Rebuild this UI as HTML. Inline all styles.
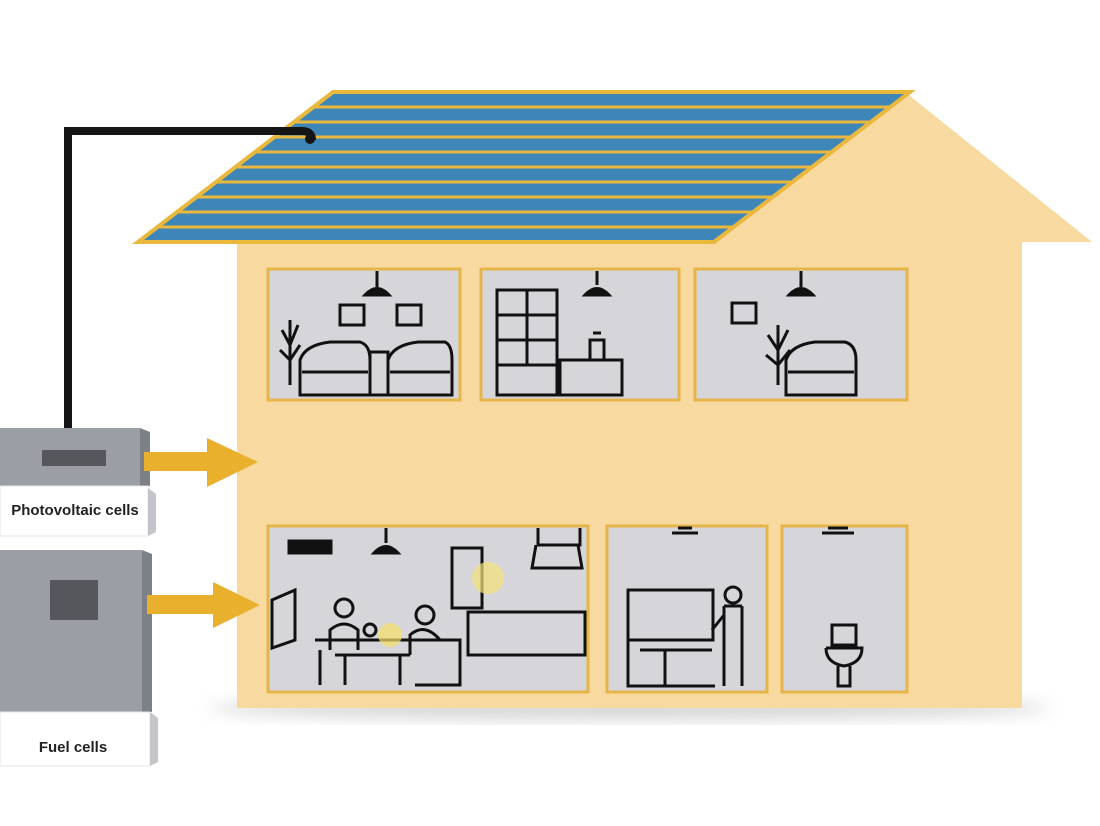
<!DOCTYPE html>
<html><head><meta charset="utf-8"><style>
html,body{margin:0;padding:0;background:#fff;}
body{width:1100px;height:826px;overflow:hidden;position:relative;font-family:"Liberation Sans",sans-serif;}
.lbl{position:absolute;font-weight:bold;font-size:15px;color:#222;text-align:center;}
</style></head><body>
<svg width="1100" height="826" viewBox="0 0 1100 826" style="position:absolute;left:0;top:0">
<defs>
<filter id="sh" x="-20%" y="-20%" width="140%" height="140%"><feGaussianBlur stdDeviation="8"/></filter>
</defs>
<ellipse cx="630" cy="708" rx="420" ry="12" fill="#bbb" filter="url(#sh)" opacity="0.6"/>
<rect x="237" y="238" width="785" height="470" fill="#f8d9a0"/>
<polygon points="905,92 1092,242 237,242" fill="#f8d9a0"/>
<polygon points="333,92 910,92 714,242 138,242" fill="#3f86b8" stroke="#e9b83c" stroke-width="4"/>
<g stroke="#e9b83c" stroke-width="3">
<line x1="313" y1="107" x2="890" y2="107"/>
<line x1="293" y1="122" x2="870" y2="122"/>
<line x1="274" y1="137" x2="851" y2="137"/>
<line x1="254" y1="152" x2="831" y2="152"/>
<line x1="234" y1="167" x2="811" y2="167"/>
<line x1="215" y1="182" x2="792" y2="182"/>
<line x1="195" y1="197" x2="772" y2="197"/>
<line x1="176" y1="212" x2="753" y2="212"/>
<line x1="157" y1="227" x2="733" y2="227"/>
</g>
<path d="M68 430 V131 H302 Q312 131 312 140" fill="none" stroke="#151515" stroke-width="8"/>
<circle cx="310" cy="139" r="5" fill="#151515"/>
<g fill="#d6d6da" stroke="#e6b448" stroke-width="3">
<rect x="268" y="269" width="192" height="131"/>
<rect x="481" y="269" width="198" height="131"/>
<rect x="695" y="269" width="212" height="131"/>
<rect x="268" y="526" width="320" height="166"/>
<rect x="607" y="526" width="160" height="166"/>
<rect x="782" y="526" width="125" height="166"/>
</g>
<g fill="none" stroke="#111" stroke-width="3">
<line x1="377" y1="271" x2="377" y2="287"/><path d="M365 295 Q377 282 389 295 Z" fill="#111"/>
<rect x="340" y="305" width="24" height="20"/><rect x="397" y="305" width="24" height="20"/>
<path d="M300 395 V360 Q305 345 330 342 H360 Q370 345 370 360 V395 Z"/>
<path d="M388 395 V360 Q393 345 418 342 H445 Q452 345 452 360 V395 Z"/>
<path d="M302 372 H368 M390 372 H450"/>
<rect x="370" y="352" width="18" height="43"/>
<path d="M290 385 V320 M282 330 L290 345 L298 325 M280 350 L290 360 L300 345"/>
<rect x="497" y="290" width="60" height="105"/>
<path d="M497 315 H557 M497 340 H557 M497 365 H557 M527 290 V365"/>
<line x1="597" y1="271" x2="597" y2="285"/><path d="M585 295 Q597 282 609 295 Z" fill="#111"/>
<rect x="560" y="360" width="62" height="35"/><path d="M590 340 h14 v20 h-14z M593 333 h8"/>
<line x1="801" y1="271" x2="801" y2="287"/><path d="M789 295 Q801 282 813 295 Z" fill="#111"/>
<rect x="732" y="303" width="24" height="20"/>
<path d="M786 395 V360 Q791 345 815 342 H845 Q856 345 856 360 V395 Z"/><path d="M788 372 H854"/>
<path d="M778 385 V325 M768 335 L778 350 L788 330 M766 355 L778 365 L790 350"/>
<rect x="289" y="541" width="42" height="12" fill="#111"/>
<line x1="386" y1="528" x2="386" y2="543"/><path d="M374 553 Q386 540 398 553 Z" fill="#111"/>
<path d="M538 528 V545 H580 V528 M536 545 L532 568 H582 L578 545"/>
<rect x="452" y="548" width="30" height="60"/>
<path d="M272 600 L295 590 V640 L272 648 Z"/>
<path d="M468 612 H585 V655 H468 Z"/>
<path d="M320 650 V685 M315 640 H460 V685 H415"/>
<path d="M335 655 H410 M345 655 V685 M400 655 V685"/>
<circle cx="344" cy="608" r="9"/><path d="M330 650 V630 Q344 618 358 630 V650"/>
<circle cx="370" cy="630" r="6"/>
<circle cx="425" cy="615" r="9"/><path d="M410 655 V635 Q425 622 440 640"/>
</g>
<circle cx="488" cy="578" r="16" fill="#f4e27a" opacity="0.7"/>
<circle cx="390" cy="635" r="12" fill="#f6e06a" opacity="0.7"/>
<g fill="none" stroke="#111" stroke-width="3">
<path d="M678 528 h14 M672 533 h26"/>
<rect x="628" y="590" width="85" height="50"/>
<path d="M628 640 V686 H715 M640 650 H712 M665 650 V686"/>
<circle cx="733" cy="595" r="8"/><path d="M724 606 V686 M742 606 V686 M724 606 H742 M712 630 L724 615"/>
<path d="M828 528 h20 M822 533 h32"/>
<path d="M832 625 h24 v20 h-24z M826 648 h36 q0 15 -18 18 q-18 -3 -18 -18 M838 666 v20 h12 v-20"/>
</g>
<rect x="0" y="428" width="140" height="58" fill="#9b9ea5"/>
<polygon points="140,428 150,432 150,486 140,486" fill="#7d8087"/>
<rect x="42" y="450" width="64" height="16" fill="#55575c"/>
<rect x="0" y="486" width="148" height="50" fill="#fff" stroke="#e4e4e6"/>
<polygon points="148,488 156,494 156,532 148,536" fill="#c4c5c9"/>
<rect x="0" y="550" width="142" height="162" fill="#9b9ea5"/>
<polygon points="142,550 152,554 152,712 142,712" fill="#7d8087"/>
<rect x="50" y="580" width="48" height="40" fill="#55575c"/>
<rect x="0" y="712" width="150" height="54" fill="#fff" stroke="#e4e4e6"/>
<polygon points="150,712 158,718 158,762 150,766" fill="#c4c5c9"/>
<polygon points="144,452 207,452 207,438 258,462 207,487 207,471 144,471" fill="#e9b02e"/>
<polygon points="147,595 213,595 213,582 260,605 213,628 213,614 147,614" fill="#e9b02e"/>
</svg>
<div class="lbl" style="left:0;top:502px;width:150px;">Photovoltaic cells</div>
<div class="lbl" style="left:0;top:739px;width:146px;">Fuel cells</div>
</body></html>
